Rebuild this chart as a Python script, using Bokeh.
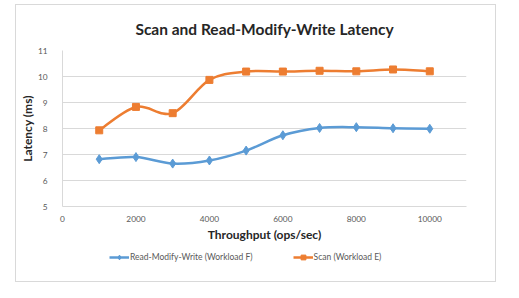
from bokeh.plotting import figure
from bokeh.layouts import column
from bokeh.models import Range1d, FixedTicker, Legend, LegendItem
from bokeh.embed import file_html
from bokeh.resources import INLINE

throughput = [1000, 2000, 3000, 4000, 5000, 6000, 7000, 8000, 9000, 10000]
rmw_latency = [6.82, 6.90, 6.65, 6.77, 7.15, 7.74, 8.02, 8.05, 8.01, 7.99]
scan_latency = [7.93, 8.83, 8.59, 9.87, 10.19, 10.19, 10.22, 10.20, 10.27, 10.20]
x_ticks = [0, 2000, 4000, 6000, 8000, 10000]
y_ticks = [5, 6, 7, 8, 9, 10, 11]
series_names = ["Read-Modify-Write (Workload F)", "Scan (Workload E)"]

BLUE = "#5B9BD5"
ORANGE = "#ED7D31"
FONT = "Lato"


def smooth_segments(xs, ys):
    # Catmull-Rom style control points (Excel-like smoothed line)
    n = len(xs)
    seg = dict(x0=[], y0=[], x1=[], y1=[], cx0=[], cy0=[], cx1=[], cy1=[])
    for i in range(n - 1):
        xp, yp = (xs[i - 1], ys[i - 1]) if i > 0 else (xs[i], ys[i])
        xn, yn = (xs[i + 2], ys[i + 2]) if i + 2 < n else (xs[i + 1], ys[i + 1])
        seg["x0"].append(xs[i]); seg["y0"].append(ys[i])
        seg["x1"].append(xs[i + 1]); seg["y1"].append(ys[i + 1])
        seg["cx0"].append(xs[i] + (xs[i + 1] - xp) / 6.0)
        seg["cy0"].append(ys[i] + (ys[i + 1] - yp) / 6.0)
        seg["cx1"].append(xs[i + 1] - (xn - xs[i]) / 6.0)
        seg["cy1"].append(ys[i + 1] - (yn - ys[i]) / 6.0)
    return seg


p = figure(width=479, height=239, output_backend="svg", toolbar_location=None,
           x_range=Range1d(0, 11000), y_range=Range1d(5, 11),
           min_border_left=45, min_border_right=29, min_border_top=45, min_border_bottom=38)
p.outline_line_color = None
p.background_fill_color = "white"
p.border_fill_color = "white"

p.title.text = "Scan and Read-Modify-Write Latency"
p.title.text_font = FONT
p.title.text_font_size = "15.5px"
p.title.text_font_style = "bold"
p.title.text_color = "#262626"
p.title.align = "center"
p.title.offset = -8
p.title.standoff = 25

p.xaxis.ticker = FixedTicker(ticks=x_ticks)
p.yaxis.ticker = FixedTicker(ticks=y_ticks)
for ax in (p.xaxis[0], p.yaxis[0]):
    ax.axis_line_color = "#d9d9d9"
    ax.major_tick_line_color = None
    ax.minor_tick_line_color = None
    ax.major_label_text_font = FONT
    ax.major_label_text_font_size = "8.3px"
    ax.major_label_text_color = "#595959"
    ax.axis_label_text_font = FONT
    ax.axis_label_text_font_size = "12px"
    ax.axis_label_text_font_style = "bold"
    ax.axis_label_text_color = "#262626"
p.xaxis.axis_label = "Throughput (ops/sec)"
p.yaxis.axis_label = "Latency (ms)"
p.xaxis.major_label_standoff = 3
p.yaxis.major_label_standoff = 9
p.xaxis.axis_label_standoff = 2
p.yaxis.axis_label_standoff = 0

p.xgrid.grid_line_color = None
p.ygrid.grid_line_color = "#d9d9d9"

s1 = smooth_segments(throughput, rmw_latency)
s2 = smooth_segments(throughput, scan_latency)
p.bezier(source=s1, x0="x0", y0="y0", x1="x1", y1="y1", cx0="cx0", cy0="cy0",
         cx1="cx1", cy1="cy1", line_color=BLUE, line_width=2.5)
p.bezier(source=s2, x0="x0", y0="y0", x1="x1", y1="y1", cx0="cx0", cy0="cy0",
         cx1="cx1", cy1="cy1", line_color=ORANGE, line_width=2.5)
p.scatter(throughput, rmw_latency, marker="diamond", size=9, color=BLUE)
p.scatter(throughput, scan_latency, marker="square", size=7, color=ORANGE)

# legend strip below the chart
q = figure(width=479, height=37, output_backend="svg", toolbar_location=None,
           x_range=Range1d(0, 1), y_range=Range1d(0, 1),
           x_axis_location=None, y_axis_location=None,
           min_border_left=0, min_border_right=0, min_border_top=0, min_border_bottom=0)
q.outline_line_color = None
q.xgrid.grid_line_color = None
q.ygrid.grid_line_color = None
q.border_fill_color = "white"

l1 = q.line([-5], [-5], line_color=BLUE, line_width=2.5)
k1 = q.scatter([-5], [-5], marker="diamond", size=7, color=BLUE)
l2 = q.line([-5], [-5], line_color=ORANGE, line_width=2.5)
k2 = q.scatter([-5], [-5], marker="square", size=6, color=ORANGE)

legend = Legend(items=[LegendItem(label=series_names[0], renderers=[l1, k1]),
                       LegendItem(label=series_names[1], renderers=[l2, k2])],
                orientation="horizontal", location=(47, 18), spacing=40,
                glyph_width=20, glyph_height=12, label_standoff=1, padding=0, margin=0,
                label_height=12,
                label_text_font=FONT, label_text_font_size="8.5px", label_text_color="#595959",
                border_line_color=None, background_fill_alpha=0)
q.add_layout(legend, "center")

layout = column(p, q, spacing=0,
                styles={"border": "1px solid #d9d9d9", "margin-left": "15px", "margin-top": "4px"})
open("out.html", "w").write(file_html(layout, INLINE))
